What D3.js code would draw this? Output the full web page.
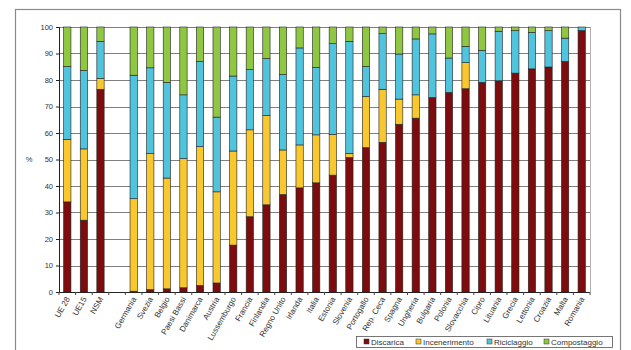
<!DOCTYPE html>
<html><head><meta charset="utf-8">
<script src="https://cdn.jsdelivr.net/npm/d3@7"></script>
<style>body{margin:0;background:#fff;} svg{display:block;font-family:"Liberation Sans",Arial,sans-serif;}</style>
</head><body>
<svg id="c" width="631" height="350"></svg>
<script>
const categories = ["UE 28","UE15","NSM","","Germania","Svezia","Belgio","Paesi Bassi","Danimarca","Austria","Lussemburgo","Francia","Finlandia","Regno Unito","Irlanda","Italia","Estonia","Slovenia","Portogallo","Rep. Ceca","Spagna","Ungheria","Bulgaria","Polonia","Slovacchia","Cipro","Lituania","Grecia","Lettonia","Croazia","Malta","Romania"];
const discarica     = [34.0,27.1,76.5,0, 0.3,0.9,1.2,1.6,2.5,3.4,17.7,28.4,32.9,36.8,39.3,41.2,44.1,50.8,54.5,56.5,63.3,65.6,73.4,75.3,76.7,79.1,79.7,82.6,84.2,84.9,87.0,98.7];
const incenerimento = [23.6,26.9,4.1,0, 34.9,51.3,41.8,48.7,52.4,34.4,35.5,32.8,33.7,16.8,16.2,18.1,15.4,1.5,19.3,20.0,9.5,8.8,0,0,9.9,0,0,0,0,0,0,0];
const riciclaggio   = [27.5,29.6,14.0,0, 46.6,32.4,36.1,24.1,32.1,28.2,28.3,22.7,21.5,28.5,36.6,25.4,34.2,42.3,11.3,21.0,17.0,21.1,24.0,13.0,6.1,12.1,18.7,16.0,13.8,13.7,8.8,1.3];
const compostaggio  = [14.9,16.4,5.4,0, 18.2,15.4,20.9,25.6,13.0,34.0,18.5,16.1,11.9,17.9,7.9,15.3,6.3,5.4,14.9,2.5,10.2,4.5,2.6,11.7,7.3,8.8,1.6,1.4,2.0,1.4,4.2,0];
const seriesNames = ["Discarica","Incenerimento","Riciclaggio","Compostaggio"];
const seriesColors = ["#7d0c0e","#f9c82e","#4fc4dc","#8fc743"];
const yTicks = [0,10,20,30,40,50,60,70,80,90,100];

const svg = d3.select("#c");
// outer frame
svg.append("rect").attr("x",15.5).attr("y",9.5).attr("width",605).attr("height",345)
  .attr("fill","none").attr("stroke","#8a8a8a").attr("stroke-width",1.2);

const m = {l:59, r:590, t:27, b:292};
const x = d3.scaleBand().domain(d3.range(categories.length)).range([m.l,m.r]).paddingInner(0.56).paddingOuter(0.28);
const xs = d3.scaleLinear().domain([0,categories.length]).range([m.l,m.r]);
const y = d3.scaleLinear().domain([0,100]).range([m.b,m.t]);

// gridlines
svg.append("g").selectAll("line").data(yTicks.filter(d=>d>0)).join("line")
  .attr("x1",m.l).attr("x2",m.r).attr("y1",d=>Math.round(y(d))+0.5).attr("y2",d=>Math.round(y(d))+0.5)
  .attr("stroke","#7f7f7f").attr("stroke-width",1);
svg.append("line").attr("x1",m.r+0.5).attr("x2",m.r+0.5).attr("y1",m.t).attr("y2",m.b).attr("stroke","#b0b0b0");

// stacked data
const table = categories.map((c,i)=>({i, Discarica:discarica[i], Incenerimento:incenerimento[i], Riciclaggio:riciclaggio[i], Compostaggio:compostaggio[i]}));
const stack = d3.stack().keys(seriesNames)(table);
svg.append("g").selectAll("g").data(stack).join("g")
  .attr("fill",(d,k)=>seriesColors[k])
  .selectAll("rect").data(d=>d.filter(p=>categories[p.data.i]!=="" && p[1]-p[0]>0)).join("rect")
  .attr("x",p=>x(p.data.i)).attr("width",x.bandwidth())
  .attr("y",p=>y(Math.min(100,p[1]))).attr("height",p=>y(p[0])-y(Math.min(100,p[1])))
  .attr("stroke","#222").attr("stroke-width",0.6);

// y axis
const ya = svg.append("g").attr("transform",`translate(${m.l},0)`)
  .call(d3.axisLeft(y).tickValues(yTicks).tickSize(3).tickPadding(3));
ya.select(".domain").attr("stroke","#222");
ya.selectAll("text").attr("font-size",7.5).attr("fill","#333");
ya.selectAll(".tick line").attr("stroke","#222");

// x axis
svg.append("line").attr("x1",m.l).attr("x2",m.r).attr("y1",m.b+0.5).attr("y2",m.b+0.5).attr("stroke","#222");
svg.append("g").selectAll("line").data(d3.range(categories.length+1)).join("line")
  .attr("x1",d=>xs(d)).attr("x2",d=>xs(d)).attr("y1",m.b).attr("y2",m.b+3).attr("stroke","#444");
svg.append("g").selectAll("text").data(categories.map((c,i)=>({c,i})).filter(d=>d.c!=="")).join("text")
  .attr("transform",d=>`translate(${x(d.i)+x.bandwidth()/2+3},${m.b+7}) rotate(-60)`)
  .attr("text-anchor","end").attr("font-size",8).attr("fill","#333").text(d=>d.c);

svg.append("text").attr("x",29).attr("y",162).attr("font-size",7.5).attr("fill","#333").attr("text-anchor","middle").text("%");

// legend
const lg = svg.append("g");
lg.append("rect").attr("x",356.5).attr("y",336.5).attr("width",256).attr("height",11).attr("fill","#fff").attr("stroke","#555").attr("stroke-width",0.8);
const lx = [364,416,487,544];
seriesNames.forEach((n,k)=>{
  lg.append("rect").attr("x",lx[k]).attr("y",339).attr("width",5).attr("height",5).attr("fill",seriesColors[k]).attr("stroke","#333").attr("stroke-width",0.5);
  lg.append("text").attr("x",lx[k]+7).attr("y",344.5).attr("font-size",8).attr("fill","#333").text(n);
});
</script>
</body></html>
